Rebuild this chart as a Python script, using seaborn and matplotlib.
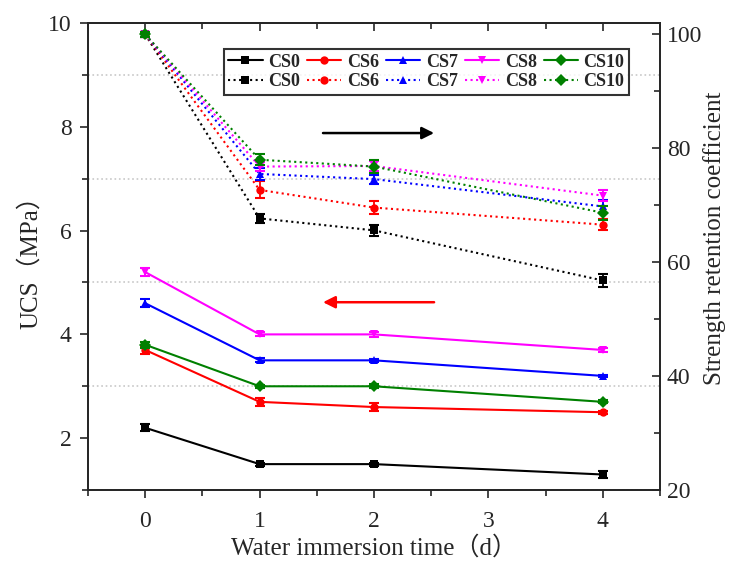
import numpy as np
import pandas as pd
import matplotlib
matplotlib.use("Agg")
import matplotlib.pyplot as plt
from matplotlib.lines import Line2D
from matplotlib.ticker import MultipleLocator
import seaborn as sns

# ---------------- data ----------------
days = [0, 1, 2, 4]
mixes = ["CS0", "CS6", "CS7", "CS8", "CS10"]

ucs_cs0 = [2.2, 1.5, 1.5, 1.3]
ucs_cs6 = [3.7, 2.7, 2.6, 2.5]
ucs_cs7 = [4.6, 3.5, 3.5, 3.2]
ucs_cs8 = [5.2, 4.0, 4.0, 3.7]
ucs_cs10 = [3.8, 3.0, 3.0, 2.7]

ucs_err_cs0 = [0.07, 0.03, 0.03, 0.06]
ucs_err_cs6 = [0.08, 0.08, 0.07, 0.03]
ucs_err_cs7 = [0.08, 0.04, 0.03, 0.02]
ucs_err_cs8 = [0.07, 0.04, 0.05, 0.04]
ucs_err_cs10 = [0.06, 0.03, 0.04, 0.03]

ret_cs0 = [100, 67.7, 65.6, 56.8]
ret_cs6 = [100, 72.7, 69.6, 66.6]
ret_cs7 = [100, 75.5, 74.6, 69.8]
ret_cs8 = [100, 76.8, 76.9, 71.7]
ret_cs10 = [100, 78.0, 76.8, 68.7]

ret_err_cs0 = [0.5, 0.8, 1.0, 1.2]
ret_err_cs6 = [0.5, 1.5, 1.2, 1.0]
ret_err_cs7 = [0.5, 1.0, 0.8, 1.2]
ret_err_cs8 = [0.5, 0.8, 0.8, 1.0]
ret_err_cs10 = [0.5, 1.0, 1.2, 1.2]

ucs = [ucs_cs0, ucs_cs6, ucs_cs7, ucs_cs8, ucs_cs10]
ucs_err = [ucs_err_cs0, ucs_err_cs6, ucs_err_cs7, ucs_err_cs8, ucs_err_cs10]
ret = [ret_cs0, ret_cs6, ret_cs7, ret_cs8, ret_cs10]
ret_err = [ret_err_cs0, ret_err_cs6, ret_err_cs7, ret_err_cs8, ret_err_cs10]

colors = ["#000000", "#ff0000", "#0000ff", "#ff00ff", "#008000"]
markers = ["s", "o", "^", "v", "D"]

# ---------------- style ----------------
sns.set_style("ticks")
plt.rcParams["font.family"] = ["Liberation Serif", "Noto Sans CJK SC", "DejaVu Sans"]
plt.rcParams["axes.linewidth"] = 1.3

fig = plt.figure(figsize=(7.34, 5.62), dpi=100)
ax = fig.add_axes([0.12, 0.128, 0.779, 0.831])
ax2 = ax.twinx()

handles = []
for i, mix in enumerate(mixes):
    df = pd.DataFrame({"day": days, "ucs": ucs[i], "ret": ret[i]})

    # UCS, solid lines on left axis
    sns.lineplot(data=df, x="day", y="ucs", ax=ax, color=colors[i], marker=markers[i],
                 markersize=6, markeredgewidth=0, linewidth=1.5, legend=False)
    ax.errorbar(days, ucs[i], yerr=ucs_err[i], fmt="none", ecolor=colors[i],
                elinewidth=1.3, capsize=3.5, capthick=1.5)

    # retention coefficient, dotted lines on right axis
    sns.lineplot(data=df, x="day", y="ret", ax=ax2, color=colors[i], marker=markers[i],
                 markersize=6, markeredgewidth=0, linewidth=1.5, linestyle=":", legend=False)
    ax2.errorbar(days, ret[i], yerr=ret_err[i], fmt="none", ecolor=colors[i],
                 elinewidth=1.3, capsize=3.5, capthick=1.5)

    handles.append(Line2D([], [], color=colors[i], marker=markers[i], markersize=6,
                          markeredgewidth=0, linewidth=1.5, label=mix))
    handles.append(Line2D([], [], color=colors[i], marker=markers[i], markersize=6,
                          markeredgewidth=0, linewidth=1.5, linestyle=":", label=mix))

# ---------------- axes ----------------
ax.set_xlim(-0.5, 4.5)
ax.set_ylim(1, 10)
ax2.set_ylim(20, 102)

ax.set_xticks([0, 1, 2, 3, 4])
ax.xaxis.set_minor_locator(MultipleLocator(0.5))
ax.set_yticks([2, 4, 6, 8, 10])
ax.yaxis.set_minor_locator(MultipleLocator(1))
ax2.set_yticks([20, 40, 60, 80, 100])
ax2.yaxis.set_minor_locator(MultipleLocator(10))

ax.tick_params(axis="both", which="major", direction="out", length=6, width=1.2, labelsize=17)
ax.tick_params(axis="x", which="major", pad=9)
ax.tick_params(axis="y", which="major", pad=6)
ax.tick_params(axis="both", which="minor", direction="out", length=4, width=1.2)
ax2.tick_params(axis="y", which="major", direction="in", length=6, width=1.2, labelsize=17, pad=5)
ax2.tick_params(axis="y", which="minor", direction="in", length=4, width=1.2)

top = ax.secondary_xaxis("top")
top.set_xticks([0, 1, 2, 3, 4])
top.xaxis.set_minor_locator(MultipleLocator(0.5))
top.tick_params(which="major", direction="in", length=6, width=1.2, labeltop=False)
top.tick_params(which="minor", direction="in", length=4, width=1.2)

ax.grid(which="minor", axis="y", color="#c8c8c8", linestyle=":", linewidth=1.2)

ax.set_xlabel("Water immersion time（d）", fontsize=18, labelpad=3)
ax.set_ylabel("UCS（MPa）", fontsize=18, labelpad=4)
ax2.set_ylabel("Strength retention coefficient", fontsize=18)
ax2.yaxis.set_label_coords(1.075, 0.54)

# direction arrows
ax.annotate("", xy=(2.55, 7.88), xytext=(1.53, 7.88),
            arrowprops=dict(arrowstyle="-|>", color="black", lw=1.8, mutation_scale=18))
ax.annotate("", xy=(1.53, 4.62), xytext=(2.55, 4.62),
            arrowprops=dict(arrowstyle="-|>", color="red", lw=1.8, mutation_scale=18))

leg = ax2.legend(handles=handles, ncol=5, loc="upper right", bbox_to_anchor=(0.946, 0.944),
                 prop={"size": 13, "weight": "bold"}, frameon=True, fancybox=False,
                 edgecolor="black", handlelength=1.9, handletextpad=0.3, columnspacing=0.4,
                 borderpad=0.25, labelspacing=0.15, borderaxespad=0)
leg.get_frame().set_linewidth(1.5)

fig.savefig("out.png", dpi=100)
